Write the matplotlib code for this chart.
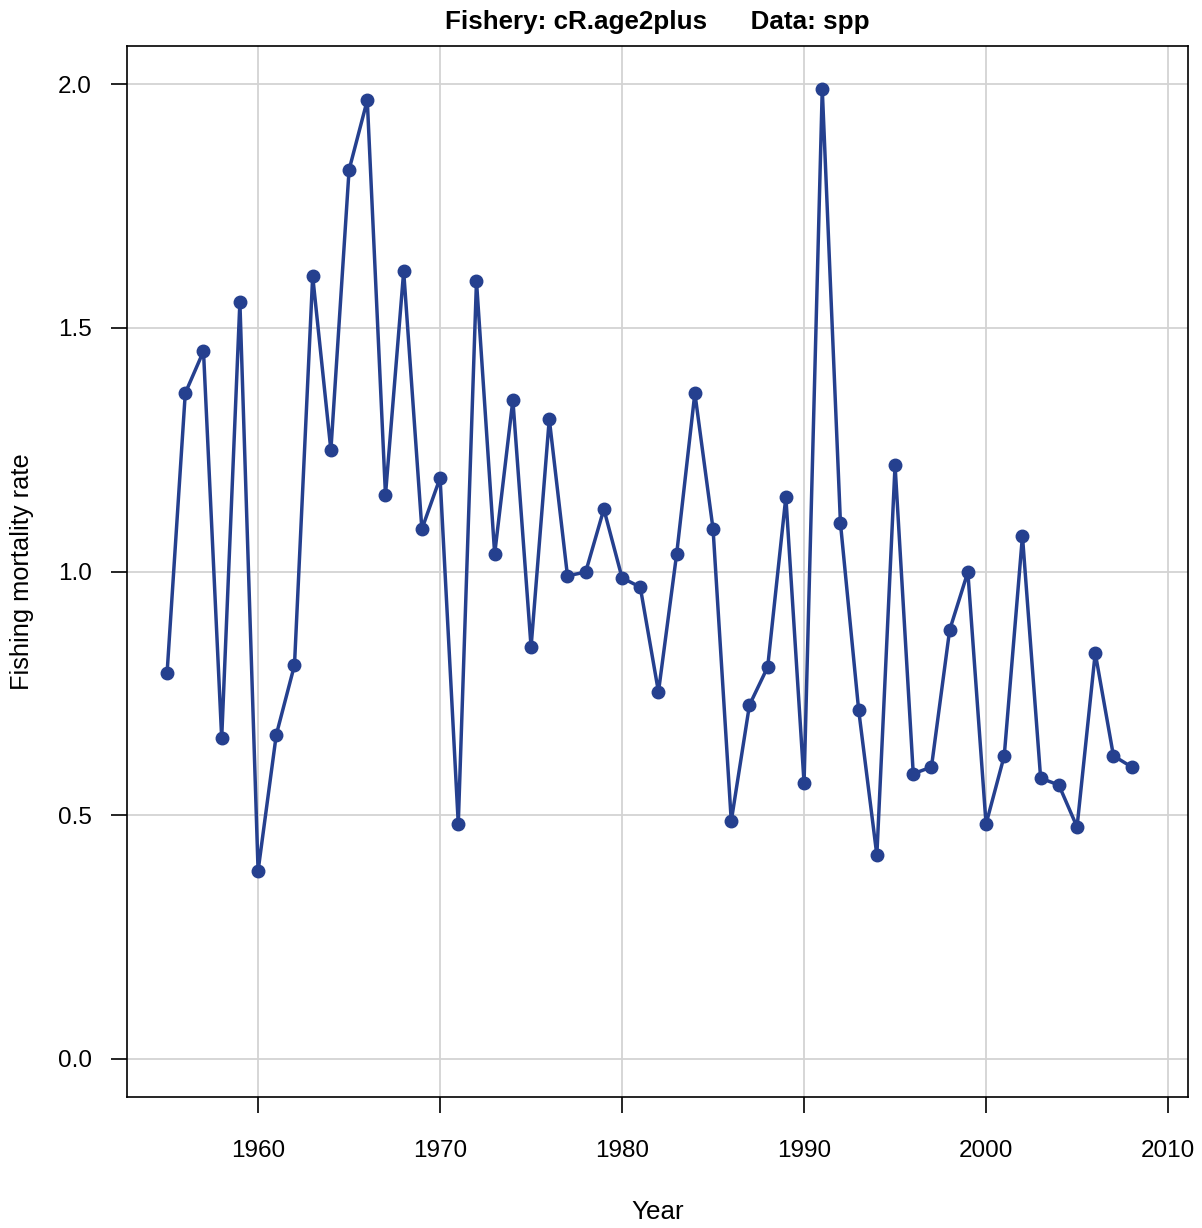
import matplotlib
matplotlib.use("Agg")
import matplotlib.pyplot as plt

plt.rcParams['font.family'] = ['Liberation Sans', 'DejaVu Sans']

years = list(range(1955, 2009))
fmort = [0.792, 1.366, 1.452, 0.658, 1.553, 0.386, 0.665, 0.808, 1.606, 1.249,
         1.824, 1.967, 1.157, 1.616, 1.087, 1.192, 0.482, 1.596, 1.036, 1.352,
         0.845, 1.313, 0.991, 0.999, 1.128, 0.987, 0.968, 0.753, 1.036, 1.366,
         1.087, 0.488, 0.726, 0.804, 1.153, 0.566, 1.990, 1.099, 0.716, 0.418,
         1.218, 0.585, 0.599, 0.880, 0.999, 0.482, 0.622, 1.073, 0.576, 0.562,
         0.476, 0.833, 0.622, 0.599]

xticks = [1960, 1970, 1980, 1990, 2000, 2010]
yticks = [0.0, 0.5, 1.0, 1.5, 2.0]

fig = plt.figure(figsize=(12.02, 12.28), dpi=100)
ax = fig.add_axes([0.1057, 0.1067, 0.8827, 0.8558])

# light grid behind the data
for x in xticks:
    ax.axvline(x, color='#d3d3d3', lw=1.3, zorder=0)
for y in yticks:
    ax.axhline(y, color='#d3d3d3', lw=1.3, zorder=0)

ax.plot(years, fmort, color='#25408f', lw=2.5, marker='o', ms=9,
        mfc='#25408f', mec='#25408f', zorder=3)

ax.set_xlim(1952.8, 2011.1)
ax.set_ylim(-0.078, 2.078)
ax.set_xticks(xticks)
ax.set_yticks(yticks)
ax.set_yticklabels([f"{v:.1f}" for v in yticks])
ax.tick_params(direction='out', length=11.3, width=1.2, labelsize=17.5, pad=14)
ax.tick_params(axis='x', pad=20)
for s in ax.spines.values():
    s.set_linewidth(1.2)

ax.set_xlabel('Year', fontsize=18.7, labelpad=27)
ax.set_ylabel('Fishing mortality rate', fontsize=18.3, labelpad=17)
ax.set_title('Fishery: cR.age2plus      Data: spp', fontsize=18.7,
             fontweight='bold', pad=12)

fig.savefig('out.png', dpi=100)
